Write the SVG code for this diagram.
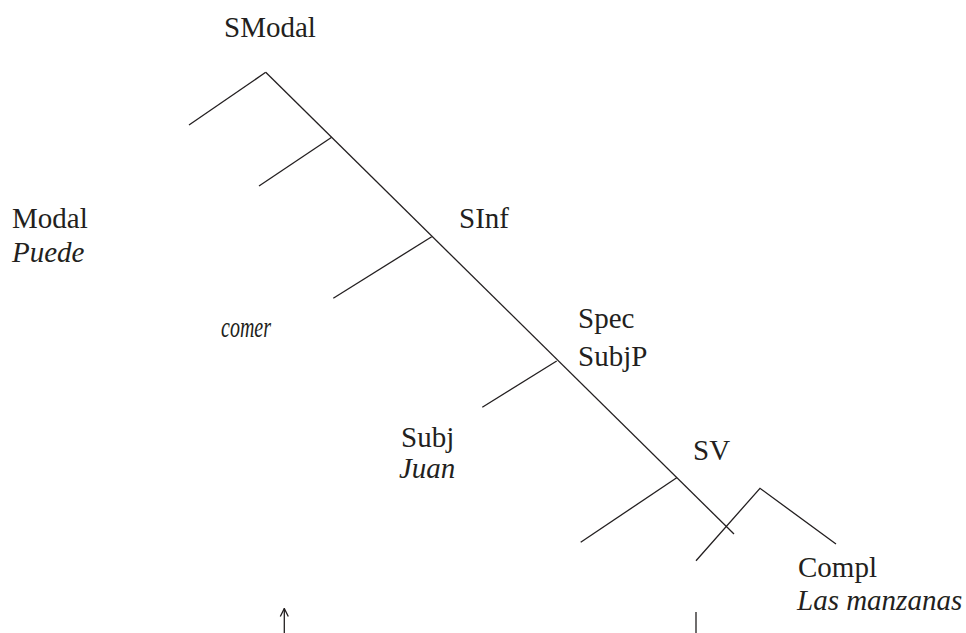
<svg xmlns="http://www.w3.org/2000/svg" width="966" height="633" viewBox="0 0 966 633">
<style>
.t{font-family:"Liberation Serif","DejaVu Serif",serif;font-size:29px;fill:#231f20}
.i{font-style:italic}
.e{fill:none;stroke:#231f20;stroke-width:1.3}
</style>
<defs>
<marker id="ah" viewBox="0 0 10 10" refX="9" refY="5" markerWidth="10" markerHeight="10" markerUnits="userSpaceOnUse" orient="auto">
<path d="M1,1 L9,5 L1,9" fill="none" stroke="#231f20" stroke-width="1.3"/>
</marker>
</defs>
<rect width="966" height="633" fill="#fff"/>
<g id="connectors">
<path class="e" d="M265.7,72.3 L734,534"/>
<path class="e" d="M265.7,72.3 L189,125"/>
<path class="e" d="M331.7,137.3 L259,186"/>
<path class="e" d="M431.7,236.7 L333.3,298.3"/>
<path class="e" d="M556.7,361 L482.3,407.3"/>
<path class="e" d="M676.7,477.7 L580.7,542.3"/>
<path class="e" d="M696,560.7 L760,488.3 L836,544"/>
<path class="e" d="M696,612 L696,633"/>
<path class="e" d="M284.3,633 L284.3,608.5" marker-end="url(#ah)"/>
</g>
<g id="smodal"><text class="t" x="224" y="37">SModal</text></g>
<g id="modal"><text class="t" x="12" y="228">Modal</text><text class="t i" x="12" y="262">Puede</text></g>
<g id="sinf"><text class="t" x="459" y="228">SInf</text></g>
<g id="comer"><text class="t i" x="221" y="337" font-size="24" textLength="50" lengthAdjust="spacingAndGlyphs">comer</text></g>
<g id="spec"><text class="t" x="578" y="328">Spec</text><text class="t" x="578" y="366">SubjP</text></g>
<g id="subj"><text class="t" x="401" y="447">Subj</text><text class="t i" x="399" y="478">Juan</text></g>
<g id="sv"><text class="t" x="693" y="460">SV</text></g>
<g id="compl"><text class="t" x="798" y="577">Compl</text><text class="t i" x="797" y="610">Las manzanas</text></g>
</svg>
